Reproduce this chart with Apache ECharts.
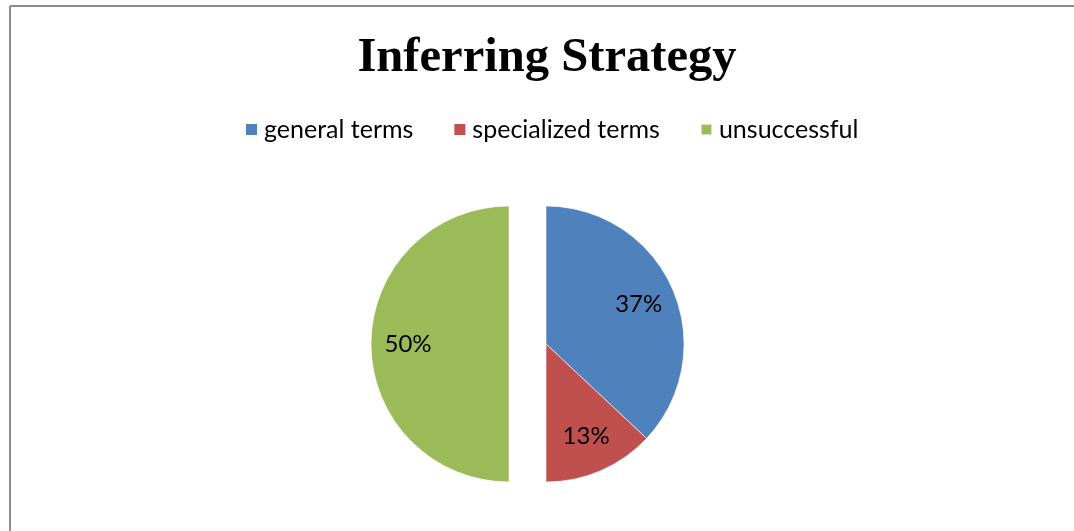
<!DOCTYPE html>
<html><head><meta charset="utf-8">
<script src="https://cdn.jsdelivr.net/npm/echarts@6/dist/echarts.min.js"></script>
<style>html,body{margin:0;padding:0;background:#fff}#c{width:1074px;height:531px}</style>
</head><body><div id="c"></div>
<script>
const titleText = 'Inferring Strategy';
const categories = ['general terms', 'specialized terms', 'unsuccessful'];
const values = [37, 13, 50];
const colors = ['#4F81BD', '#C0504D', '#9BBB59'];
// which slices belong to the detached (exploded) part
const explodedGroup = [false, false, true];

const R = 138, CY = 344;
function makeData(showExploded, forLabels) {
  return categories.map((name, i) => {
    const visible = explodedGroup[i] === showExploded;
    return {
      name, value: values[i],
      itemStyle: { color: (visible && !forLabels) ? colors[i] : 'rgba(0,0,0,0)',
                   borderColor: (visible && !forLabels) ? 'rgba(255,255,255,0.6)' : 'rgba(0,0,0,0)', borderWidth: 1 },
      label: { show: visible && forLabels }
    };
  });
}
function fillSeries(showExploded, cx) {
  return {
    type: 'pie', center: [cx, CY], radius: [0, R], startAngle: 90, clockwise: true,
    silent: true, label: { show: false }, labelLine: { show: false },
    data: makeData(showExploded, false)
  };
}
function labelSeries(showExploded, cx) {
  return {
    type: 'pie', center: [cx, CY], radius: [58, R], startAngle: 90, clockwise: true,
    silent: true, labelLine: { show: false },
    label: { position: 'inside', formatter: '{d}%', color: '#000', fontFamily: 'Lato', fontSize: 24 },
    data: makeData(showExploded, true)
  };
}
const chart = echarts.init(document.getElementById('c'), null, { renderer: 'canvas' });
chart.setOption({
  animation: false,
  color: colors,
  title: { text: titleText, left: 542, textAlign: 'center', top: 29,
    textStyle: { fontFamily: 'Liberation Serif', fontWeight: 'bold', fontSize: 48.6, color: '#000' } },
  legend: { data: categories.map((n, i) => ({ name: n, itemStyle: { color: colors[i] } })),
    top: 112, left: 240, icon: 'rect', itemWidth: 11, itemHeight: 11, itemGap: 40,
    textStyle: { fontFamily: 'Lato', fontSize: 25, color: '#000', padding: [0, 0, 0, 2] } },
  graphic: [
    { type: 'line', shape: { x1: 10, y1: 6, x2: 1074, y2: 6 }, style: { stroke: '#8c8c8c', lineWidth: 2 } },
    { type: 'line', shape: { x1: 10, y1: 6, x2: 10, y2: 531 }, style: { stroke: '#8c8c8c', lineWidth: 2 } }
  ],
  series: [
    fillSeries(true, 509), fillSeries(false, 546),
    labelSeries(true, 509), labelSeries(false, 546)
  ]
});
</script></body></html>
